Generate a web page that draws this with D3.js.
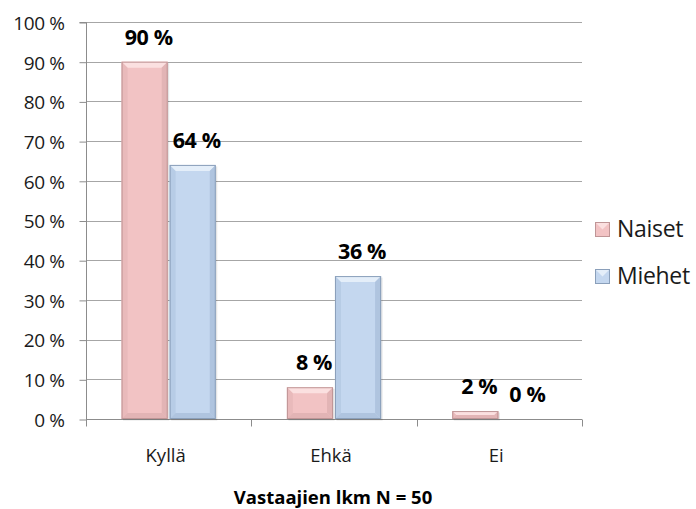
<!DOCTYPE html>
<html>
<head>
<meta charset="utf-8">
<script src="https://cdn.jsdelivr.net/npm/d3@7"></script>
<style>
  html, body { margin: 0; padding: 0; background: #fff; }
  svg { display: block; font-family: "Open Sans", "Lato", sans-serif; }
</style>
</head>
<body>
<svg id="chart" width="696" height="509"></svg>
<script>
// Survey answers by gender (share of respondents)
const categories = ["Kyllä", "Ehkä", "Ei"];
const seriesNames = ["Naiset", "Miehet"];
const naiset = [0.90, 0.08, 0.02];
const miehet = [0.64, 0.36, 0.00];
const yTicks = [0, 0.1, 0.2, 0.3, 0.4, 0.5, 0.6, 0.7, 0.8, 0.9, 1.0];
const xTitle = "Vastaajien lkm N = 50";

const seriesValues = [naiset, miehet];
const palette = {
  Naiset: { main: "#f2c3c4", light: "#fbe0e0", side: "#e2b4b5", dark: "#bf9596" },
  Miehet: { main: "#c4d7ef", light: "#e4eef9", side: "#afc4df", dark: "#8a9fba" }
};

const svg = d3.select("#chart");
const plot = { left: 86, right: 582, top: 22, bottom: 419 };

const y = d3.scaleLinear().domain([0, 1]).range([plot.bottom, plot.top]);
const x = d3.scaleBand().domain(categories).range([plot.left, plot.right]).padding(0);
const xs = d3.scaleBand().domain(seriesNames).range([0, x.bandwidth()])
  .paddingInner(0.04).paddingOuter(0.74);

// gridlines
svg.append("g").selectAll("line").data(yTicks).join("line")
  .attr("x1", plot.left).attr("x2", plot.right)
  .attr("y1", d => Math.round(y(d)) + 0.5).attr("y2", d => Math.round(y(d)) + 0.5)
  .attr("stroke", "#a6a6a6").attr("stroke-width", 1);

// y axis
const yAxis = d3.axisLeft(y).tickValues(yTicks).tickSize(7).tickPadding(15)
  .tickFormat(d => Math.round(d * 100) + " %");
const gy = svg.append("g").attr("transform", `translate(${plot.left + 0.5},0.5)`).call(yAxis);
gy.select(".domain").attr("stroke", "#8c8c8c").attr("d", `M-7,${y(1)}H0V${y(0)}`);
gy.selectAll(".tick line").attr("stroke", "#8c8c8c");
gy.selectAll(".tick text").attr("font-size", 19).attr("fill", "#1a1a1a")
  .attr("font-family", "Open Sans").attr("dy", "0.36em").attr("letter-spacing", "-0.4");

// x axis
const gx = svg.append("g").attr("transform", `translate(0,${plot.bottom + 0.5})`);
gx.append("line").attr("x1", plot.left).attr("x2", plot.right).attr("stroke", "#8c8c8c");
const bounds = [plot.left].concat(categories.map(c => x(c) + x.bandwidth()));
gx.selectAll("line.tk").data(bounds).join("line").attr("class", "tk")
  .attr("x1", d => Math.round(d) + 0.5).attr("x2", d => Math.round(d) + 0.5)
  .attr("y1", 0).attr("y2", 7).attr("stroke", "#8c8c8c");
gx.selectAll("text").data(categories).join("text")
  .attr("x", d => x(d) + x.bandwidth() / 2 - 3).attr("y", 42)
  .attr("text-anchor", "middle").attr("font-size", 18.5).attr("fill", "#1a1a1a")
  .text(d => d);

// bevelled bars
const bars = [];
seriesNames.forEach((s, si) => {
  categories.forEach((c, ci) => {
    bars.push({ s, c, v: seriesValues[si][ci] });
  });
});

const bw = xs.bandwidth();
const g = svg.append("g");
bars.forEach(b => {
  const x0 = x(b.c) + xs(b.s);
  const y0 = y(b.v);
  const y1 = y(0);
  const h = y1 - y0;
  if (h <= 0.5) return;
  const col = palette[b.s];
  const bev = Math.min(6, h / 2);
  const gb = g.append("g");
  // soft shadow
  gb.append("rect").attr("x", x0 + 1.5).attr("y", y0 + 1.5).attr("width", bw).attr("height", h)
    .attr("fill", "#000").attr("opacity", 0.1);
  gb.append("rect").attr("x", x0).attr("y", y0).attr("width", bw).attr("height", h)
    .attr("fill", col.main);
  // top bevel
  gb.append("path").attr("d",
    `M${x0},${y0}H${x0 + bw}L${x0 + bw - bev},${y0 + bev}H${x0 + bev}Z`).attr("fill", col.light);
  // side bevels
  gb.append("path").attr("d",
    `M${x0},${y0}L${x0 + bev},${y0 + bev}V${y1 - bev}L${x0},${y1}Z`).attr("fill", col.side).attr("opacity", 0.6);
  gb.append("path").attr("d",
    `M${x0 + bw},${y0}L${x0 + bw - bev},${y0 + bev}V${y1 - bev}L${x0 + bw},${y1}Z`).attr("fill", col.side);
  // bottom bevel
  gb.append("path").attr("d",
    `M${x0},${y1}L${x0 + bev},${y1 - bev}H${x0 + bw - bev}L${x0 + bw},${y1}Z`).attr("fill", col.side);
  gb.append("rect").attr("x", x0 + 0.5).attr("y", y0 + 0.5).attr("width", bw - 1).attr("height", h - 1)
    .attr("fill", "none").attr("stroke", col.dark).attr("stroke-width", 1);
});

// value labels
svg.append("g").selectAll("text").data(bars).join("text")
  .attr("x", d => x(d.c) + xs(d.s) + bw / 2 + 4)
  .attr("y", d => y(d.v) - 17)
  .attr("text-anchor", "middle").attr("font-size", 21.5).attr("font-weight", "bold")
  .attr("fill", "#000").attr("letter-spacing", "-0.4")
  .text(d => Math.round(d.v * 100) + " %");

// axis title
svg.append("text").attr("x", 333).attr("y", 504).attr("text-anchor", "middle")
  .attr("font-size", 18.5).attr("font-weight", "bold").attr("fill", "#000").text(xTitle);

// legend
const lg = svg.append("g").attr("transform", "translate(595,222)");
seriesNames.forEach((s, i) => {
  const row = lg.append("g").attr("transform", `translate(0,${i * 47})`);
  const col = palette[s];
  row.append("rect").attr("x", 0.5).attr("y", 0.5).attr("width", 14).attr("height", 14)
    .attr("fill", col.main).attr("stroke", col.dark);
  row.append("path").attr("d", "M1,1L7.5,7.5L14,1Z").attr("fill", col.light);
  row.append("text").attr("x", 22).attr("y", 15).attr("font-size", 23).attr("fill", "#1a1a1a")
    .attr("letter-spacing", "-0.3").text(s);
});
</script>
</body>
</html>
